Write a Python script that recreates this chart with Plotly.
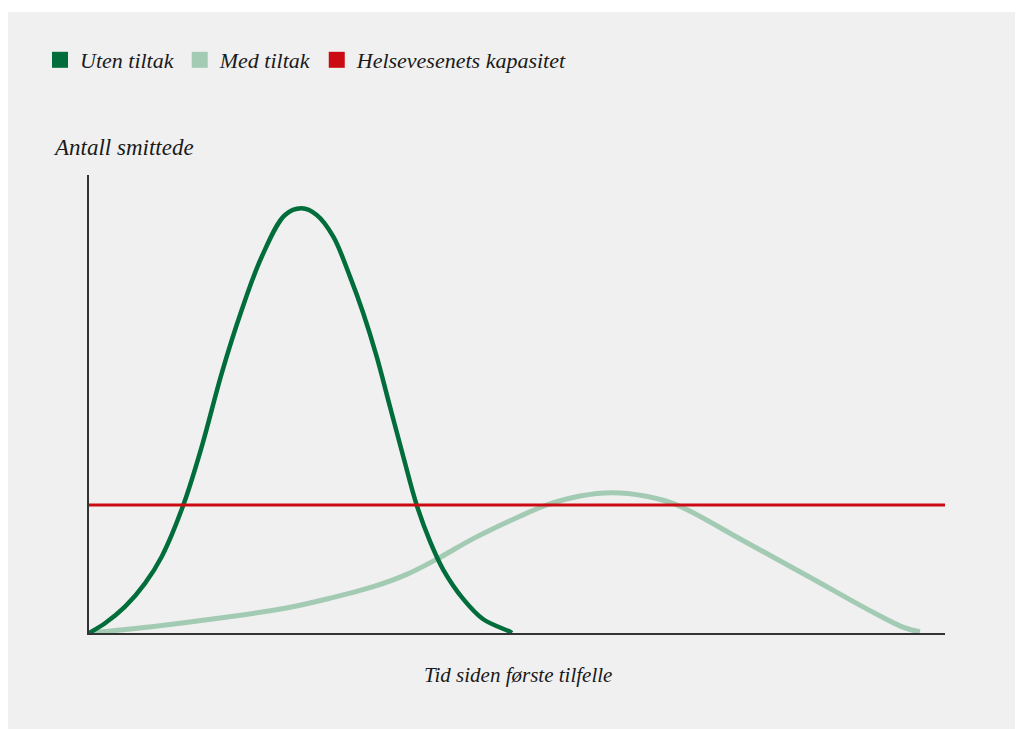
import plotly.graph_objects as go

# Data (time units 0-100, infected units 0-100)
uten_x = [0, 1.87, 4.21, 6.54, 8.49, 11.02, 13.17, 15.5, 17.84, 20.18, 22.9, 24.85,
          26.6, 28.54, 30.49, 32.04, 33.61, 35.16, 36.72, 38.28, 39.84, 41.39, 43.73, 46.06, 49.18, 49.4]
uten_y = [0, 2.12, 5.74, 10.85, 16.66, 27.95, 40.68, 56.7, 70.52, 82.16, 91.27, 92.73,
          91.27, 86.53, 77.8, 69.8, 60.33, 49.41, 38.49, 27.95, 20.0, 13.8, 7.4, 3.0, 0.28, 0]

med_x = [0, 7.32, 15.1, 22.9, 28.15, 33.21, 37.11, 41.0, 44.89, 50.35, 53.47, 57.36, 61.1,
         64.95, 68.69, 76.29, 84.79, 91.12, 95.33, 97.08]
med_y = [0, 1.38, 3.21, 5.39, 7.58, 10.11, 12.8, 16.5, 20.6, 25.5, 27.95, 29.9, 30.63,
         29.9, 27.95, 20.3, 11.57, 5.0, 1.1, 0.28]

kap_x = [0, 100]
kap_y = [27.95, 27.95]

names = ["Uten tiltak", "Med tiltak", "Helsevesenets kapasitet"]
colors = ["#006d3a", "#a3cbb4", "#cc0a14"]

BG = "#f0f0f0"
FONT = "Liberation Serif"
TXT = "#1a1a1a"

fig = go.Figure()

fig.add_trace(go.Scatter(x=med_x, y=med_y, mode="lines",
                         line=dict(color=colors[1], width=5, shape="spline", smoothing=1.0),
                         showlegend=False, cliponaxis=False, hoverinfo="skip"))
fig.add_trace(go.Scatter(x=uten_x, y=uten_y, mode="lines",
                         line=dict(color=colors[0], width=4.5, shape="spline", smoothing=1.0),
                         showlegend=False, cliponaxis=False, hoverinfo="skip"))
fig.add_trace(go.Scatter(x=kap_x, y=kap_y, mode="lines", line=dict(color=colors[2], width=3),
                         showlegend=False, cliponaxis=False, hoverinfo="skip"))

# Legend entries as square markers
for n, c in zip(names, colors):
    fig.add_trace(go.Scatter(x=[None], y=[None], mode="markers", name=n,
                             marker=dict(symbol="square", size=16, color=c, line=dict(width=0))))

# page has an 8px body margin: screen = figure + 8
OFF = 8
W, H = 1015, 721
L, R, T, B = 81, 78, 167, 96
pw, ph = W - L - R, H - T - B

def sx(x):
    return (x - OFF - L) / pw

def sy(y):
    return (H - B - (y - OFF)) / ph

fig.add_shape(type="rect", xref="paper", yref="paper", x0=sx(8), x1=sx(1040), y0=sy(12), y1=sy(760),
              fillcolor=BG, line=dict(width=0), layer="below")

fig.add_annotation(text="Antall smittede", xref="paper", yref="paper", x=sx(51), y=sy(147),
                   xanchor="left", yanchor="middle", showarrow=False,
                   font=dict(family=FONT, size=23, color=TXT, style="italic"))
fig.add_annotation(text="Tid siden første tilfelle", xref="paper", yref="paper", x=sx(518), y=sy(675),
                   xanchor="center", yanchor="middle", showarrow=False,
                   font=dict(family=FONT, size=21, color=TXT, style="italic"))

fig.update_layout(
    width=W, height=H,
    margin=dict(l=L, r=R, t=T, b=B, autoexpand=False),
    paper_bgcolor="white",
    plot_bgcolor=BG,
    font=dict(family=FONT, size=22, color=TXT, style="italic"),
    legend=dict(orientation="h", x=sx(40), y=sy(60), xanchor="left", yanchor="middle",
                bgcolor="rgba(0,0,0,0)", font=dict(family=FONT, size=22, color=TXT, style="italic"),
                itemwidth=30, tracegroupgap=0),
    xaxis=dict(range=[0, 100], showgrid=False, zeroline=False, showticklabels=False, ticks="",
               showline=True, linecolor="#333333", linewidth=2, fixedrange=True),
    yaxis=dict(range=[0, 100], showgrid=False, zeroline=False, showticklabels=False, ticks="",
               showline=True, linecolor="#333333", linewidth=2, fixedrange=True),
)

fig.write_html("out.html")
